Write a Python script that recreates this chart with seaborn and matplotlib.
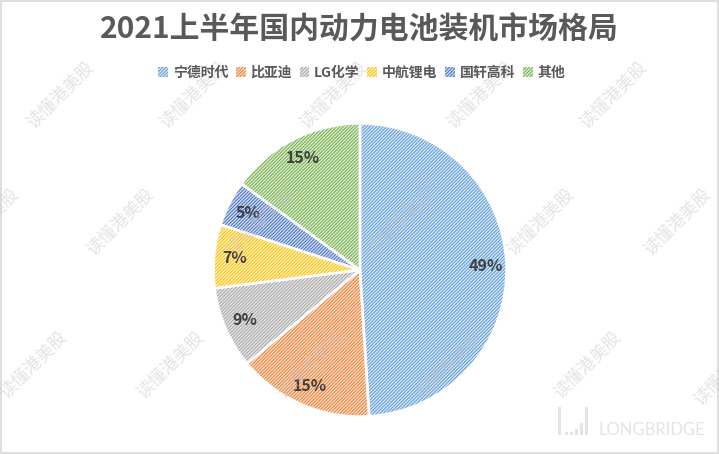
import matplotlib
matplotlib.use("Agg")
import matplotlib.pyplot as plt
from matplotlib.patches import Rectangle
import seaborn as sns

# data
companies = ["宁德时代", "比亚迪", "LG化学", "中航锂电", "国轩高科", "其他"]
shares = [49, 15, 9, 7, 5, 15]
title = "2021上半年国内动力电池装机市场格局"

line_colors = ["#5b9bd5", "#ed7d31", "#a5a5a5", "#ffc000", "#4472c4", "#70ad47"]
fill_colors = ["#d6e6f6", "#fbdcc6", "#e6e6e6", "#fff0c2", "#cfdaf0", "#dcecd0"]

sns.set_theme(style="white")
plt.rcParams["font.family"] = ["Noto Sans CJK SC", "DejaVu Sans"]
plt.rcParams["hatch.linewidth"] = 0.7

fig = plt.figure(figsize=(7.19, 4.54), dpi=100)
fig.patch.set_facecolor("white")

ax = fig.add_axes([212 / 719, 36 / 454, 296 / 719, 296 / 454])
pal = sns.color_palette(fill_colors)

wedges, _ = ax.pie(shares, colors=pal, startangle=90, counterclock=False,
                   wedgeprops=dict(linewidth=0, hatch="//////////"))
for w, c in zip(wedges, line_colors):
    w.set_edgecolor(c)

# white separators and percentage labels
ax.pie(shares, startangle=90, counterclock=False, autopct="%d%%", pctdistance=0.86,
       wedgeprops=dict(fill=False, edgecolor="white", linewidth=1.8),
       textprops=dict(color="#404040", fontsize=11.5, fontweight="bold"))
ax.set_xlim(-1.01, 1.01)
ax.set_ylim(-1.01, 1.01)
ax.set_aspect("equal")
ax.axis("off")

# faint watermarks, over the pie like the original
wm_pos = [(60, 95), (193, 95), (333, 95), (480, 95), (613, 95),
          (-15, 222), (120, 222), (260, 222), (400, 222), (540, 222), (677, 222),
          (33, 365), (170, 365), (310, 365), (447, 365), (587, 365), (727, 372)]
for x, y in wm_pos:
    fig.text(x / 719, 1 - y / 454, "读懂港美股", rotation=45, ha="center", va="center",
             fontsize=12.5, color="#c4c4c4", alpha=0.45, zorder=5)

fig.text(0.5, 1 - 30 / 454, title, ha="center", va="center", fontsize=21.5,
         fontweight="bold", color="#595959")

fig.legend(wedges, companies, loc="center", bbox_to_anchor=(0.503, 1 - 73 / 454),
           ncol=6, frameon=False, handlelength=0.7, handleheight=0.7,
           handletextpad=0.35, columnspacing=0.55,
           prop=dict(family=["Noto Sans CJK SC", "DejaVu Sans"], weight="bold", size=10),
           labelcolor="#595959")

# LONGBRIDGE logo
logo = "#e4e4e4"
for x, h in [(558, 28), (565, 3), (570, 3), (575, 6), (580, 12), (585, 28)]:
    fig.add_artist(Rectangle((x / 719, 1 - 435 / 454), 2.5 / 719, h / 454,
                             transform=fig.transFigure, color=logo, lw=0))
fig.text(598 / 719, 1 - 430 / 454, "LONGBRIDGE", ha="left", va="center",
         fontsize=12, color=logo, family="Lato")

fig.add_artist(Rectangle((0.001, 0.002), 0.997, 0.996, transform=fig.transFigure,
                         fill=False, edgecolor="#d9d9d9", lw=1.2))

fig.savefig("out.png", dpi=100)
